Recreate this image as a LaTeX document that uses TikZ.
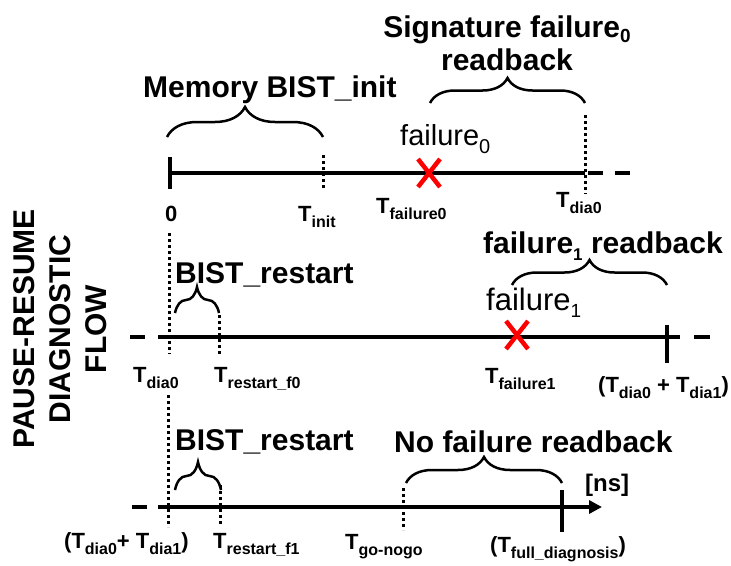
\documentclass[tikz,border=0pt]{standalone}
\usepackage{fontspec}
\setmainfont{Liberation Sans}
\usetikzlibrary{decorations.pathreplacing,arrows.meta}

\newcommand\fsz[1]{\fontsize{#1}{#1}\selectfont}
\newcommand\Tlab[1]{T\raisebox{-6pt}{\fsz{16}#1}}

\begin{document}
\begin{tikzpicture}[x=1pt,y=-1pt,
  axis/.style={line width=3.5pt},
  tickmark/.style={line width=3.5pt},
  dotline/.style={line width=3pt, dash pattern=on 3pt off 3pt},
  dashseg/.style={line width=3.5pt},
  bracemark/.style={line width=2.5pt, decorate, decoration={brace, amplitude=#1}},
  failx/.style={red, line width=4.5pt},
  lab/.style={inner sep=0pt, anchor=base west, font=\fsz{22}\bfseries},
  big/.style={inner sep=0pt, anchor=base west, font=\fsz{30}\bfseries},
  thinlab/.style={inner sep=0pt, anchor=base west, font=\fsz{29}},
]
\useasboundingbox (0,0) rectangle (731,565);

% title
\node[rotate=90, align=center, inner sep=0pt, font=\fontsize{30}{36}\selectfont\bfseries] (title) at (60,329) {PAUSE-RESUME\\DIAGNOSTIC\\FLOW};

% ---------------- top timeline ----------------
\coordinate (a0) at (170,173);
\coordinate (a1) at (585,173);
\draw[axis] (a0) -- (a1);
\coordinate (ad1s) at (588,173); \coordinate (ad1e) at (603,173);
\coordinate (ad2s) at (615,173); \coordinate (ad2e) at (630,173);
\draw[dashseg] (ad1s) -- (ad1e);
\draw[dashseg] (ad2s) -- (ad2e);
\coordinate (atk0) at (170,157); \coordinate (atk1) at (170,189);
\draw[tickmark] (atk0) -- (atk1);
\coordinate (ai0) at (323,155); \coordinate (ai1) at (323,190);
\draw[dotline] (ai0) -- (ai1);
\coordinate (ad0) at (585,115); \coordinate (adb) at (585,194);
\draw[dotline] (ad0) -- (adb);
\coordinate (ax) at (429,173);
\draw[failx] ([shift={(-11,-14)}]ax) -- ([shift={(11,14)}]ax);
\draw[failx] ([shift={(11,-14)}]ax) -- ([shift={(-11,14)}]ax);
\coordinate (ab1) at (167,137); \coordinate (ab2) at (323,137);
\draw[bracemark=30] (ab1) -- (ab2);
\coordinate (ab3) at (430,103); \coordinate (ab4) at (585,103);
\draw[bracemark=25] (ab3) -- (ab4);

\node[big] (memlab) at (143,97) {Memory BIST\_init};
\node[big, anchor=base] (siglab) at (507,37) {Signature failure\raisebox{-5pt}{\fsz{19}0}};
\node[big, anchor=base] (sigrb) at (507,70) {readback};
\node[thinlab] (f0lab) at (400,145) {failure\raisebox{-8pt}{\fsz{20}0}};
\node[lab] (l0) at (165,221) {0};
\node[lab] (linit) at (298,221) {\Tlab{init}};
\node[lab] (lf0) at (376,213) {\Tlab{failure0}};
\node[lab] (ld0) at (556,207) {\Tlab{dia0}};

% ---------------- middle timeline ----------------
\coordinate (b0) at (158,337);
\coordinate (b1) at (680,337);
\draw[axis] (b0) -- (b1);
\coordinate (bd1s) at (130,337); \coordinate (bd1e) at (145,337);
\coordinate (bd2s) at (694,337); \coordinate (bd2e) at (710,337);
\draw[dashseg] (bd1s) -- (bd1e);
\draw[dashseg] (bd2s) -- (bd2e);
\coordinate (bv0) at (169,233); \coordinate (bv1) at (169,354);
\draw[dotline] (bv0) -- (bv1);
\coordinate (br0) at (219,315); \coordinate (br1) at (219,354);
\draw[dotline] (br0) -- (br1);
\coordinate (btk0) at (667,325); \coordinate (btk1) at (667,363);
\draw[tickmark] (btk0) -- (btk1);
\coordinate (bx) at (517,335);
\draw[failx] ([shift={(-11,-14)}]bx) -- ([shift={(11,14)}]bx);
\draw[failx] ([shift={(11,-14)}]bx) -- ([shift={(-11,14)}]bx);
\coordinate (bb1) at (175,313); \coordinate (bb2) at (219,313);
\draw[bracemark=26] (bb1) -- (bb2);
\coordinate (bb3) at (512,285); \coordinate (bb4) at (667,285);
\draw[bracemark=25] (bb3) -- (bb4);

\node[big] (brlab1) at (175,283) {BIST\_restart};
\node[big] (f1rb) at (483,253) {failure\raisebox{-7pt}{\fsz{17}1} readback};
\node[thinlab, font=\fsz{31}] (f1lab) at (486,310) {failure\raisebox{-7pt}{\fsz{19}1}};
\node[lab] (md0) at (133,382) {\Tlab{dia0}};
\node[lab] (mrf0) at (214,382) {\Tlab{restart\_f0}};
\node[lab] (mf1) at (485,383) {\Tlab{failure1}};
\node[lab] (mdd) at (598,392) {(\Tlab{dia0} + \Tlab{dia1})};

% ---------------- bottom timeline ----------------
\coordinate (c0) at (158,507);
\coordinate (c1) at (602,507);
\draw[axis, -{Triangle[length=13pt,width=13pt]}] (c0) -- (c1);
\coordinate (cd1s) at (132,507); \coordinate (cd1e) at (147,507);
\draw[dashseg] (cd1s) -- (cd1e);
\coordinate (cv0) at (168,395); \coordinate (cv1) at (168,527);
\draw[dotline] (cv0) -- (cv1);
\coordinate (cr0) at (220,485); \coordinate (cr1) at (220,524);
\draw[dotline] (cr0) -- (cr1);
\coordinate (cg0) at (403,488); \coordinate (cg1) at (403,530);
\draw[dotline] (cg0) -- (cg1);
\coordinate (ctk0) at (562,490); \coordinate (ctk1) at (562,532);
\draw[tickmark] (ctk0) -- (ctk1);
\coordinate (cb1) at (175,490); \coordinate (cb2) at (221,490);
\draw[bracemark=28] (cb1) -- (cb2);
\coordinate (cb3) at (406,483); \coordinate (cb4) at (562,483);
\draw[bracemark=26] (cb3) -- (cb4);

\node[big] (brlab2) at (175,450) {BIST\_restart};
\node[big] (nflab) at (394,452) {No failure readback};
\node[inner sep=0pt, anchor=base west, font=\fsz{24}\bfseries] (ns) at (585,491) {[ns]};
\node[lab] (bdd) at (64,548) {(\Tlab{dia0}+ \Tlab{dia1})};
\node[lab] (brf1) at (213,548) {\Tlab{restart\_f1}};
\node[lab] (bgo) at (345,549) {\Tlab{go-nogo}};
\node[lab] (bfd) at (490,552) {(\Tlab{full\_diagnosis})};
\end{tikzpicture}
\end{document}
